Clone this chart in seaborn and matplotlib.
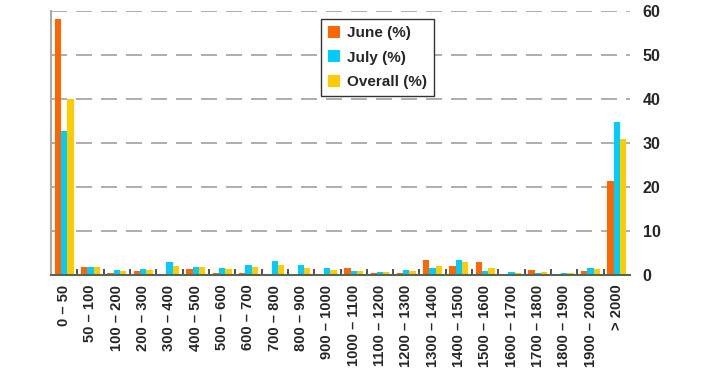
import matplotlib
matplotlib.use("Agg")
import matplotlib.pyplot as plt
import matplotlib.ticker as mticker
import seaborn as sns
import pandas as pd

categories = ["0 – 50", "50 – 100", "100 – 200", "200 – 300", "300 – 400", "400 – 500",
              "500 – 600", "600 – 700", "700 – 800", "800 – 900", "900 – 1000",
              "1000 – 1100", "1100 – 1200", "1200 – 1300", "1300 – 1400", "1400 – 1500",
              "1500 – 1600", "1600 – 1700", "1700 – 1800", "1800 – 1900", "1900 – 2000", "> 2000"]
june = [58.1, 1.8, 0.5, 1.0, 0.2, 1.4, 0.5, 0.5, 0.0, 0.0, 0.3, 1.7, 0.5, 0.4, 3.3, 2.0, 3.0, 0.2, 1.1, 0.2, 0.9, 21.4]
july = [32.7, 1.8, 1.1, 1.3, 2.9, 1.8, 1.7, 2.3, 3.2, 2.3, 1.7, 0.8, 0.7, 1.1, 1.7, 3.4, 0.9, 0.7, 0.5, 0.5, 1.6, 34.7]
overall = [40.0, 1.8, 0.9, 1.2, 2.0, 1.8, 1.4, 1.8, 2.3, 1.7, 1.1, 0.9, 0.7, 1.0, 2.0, 3.0, 1.7, 0.5, 0.7, 0.4, 1.4, 31.0]
series_names = ["June (%)", "July (%)", "Overall (%)"]
yticks = [0, 10, 20, 30, 40, 50, 60]

df = pd.DataFrame({
    "cat": categories * 3,
    "val": june + july + overall,
    "series": [series_names[0]] * len(categories) + [series_names[1]] * len(categories) + [series_names[2]] * len(categories),
})

sns.set_style("white")
plt.rcParams['font.family'] = ['Liberation Sans', 'DejaVu Sans']

fig = plt.figure(figsize=(7.16, 3.72), dpi=100)
ax = fig.add_axes([51/716, 1 - 275/372, 579/716, 264/372])

palette = ["#FF6600", "#00CCFF", "#FFCC00"]
sns.barplot(data=df, x="cat", y="val", hue="series", palette=palette, ax=ax,
            width=0.72, saturation=1, order=categories, hue_order=series_names,
            linewidth=0, edgecolor="none", gap=0)

ax.set_ylim(0, 60)
ax.set_xlim(-0.5, len(categories) - 0.5)
ax.set_yticks(yticks)
ax.yaxis.tick_right()
ax.tick_params(axis='y', length=0, pad=9, labelsize=11.5)
for lab in ax.get_yticklabels():
    lab.set_fontweight('bold')
ax.set_ylabel("")
ax.set_xlabel("")

for y in yticks[1:]:
    ax.axhline(y, color="#A0A0A0", lw=1.2, dashes=(9.6, 5.4), zorder=0)

ax.set_xticks(range(len(categories)))
ax.set_xticklabels(categories, rotation=90, fontweight='bold', fontsize=10.6)
ax.tick_params(axis='x', length=0, pad=7)
ax.xaxis.set_minor_locator(mticker.FixedLocator([i + 0.5 for i in range(len(categories) - 1)]))
ax.tick_params(axis='x', which='minor', length=4, width=1.2, color="#333333", direction='in', bottom=True)

for s in ["top", "right"]:
    ax.spines[s].set_visible(False)
ax.spines["left"].set_color("#AAAAAA")
ax.spines["left"].set_linewidth(1.5)
ax.spines["bottom"].set_color("#556655")
ax.spines["bottom"].set_linewidth(1.5)

leg = ax.legend(loc="upper left", bbox_to_anchor=((321 - 51) / 579, (275 - 19) / 264),
                frameon=True, fancybox=False, edgecolor="#333333", framealpha=1,
                prop={'weight': 'bold', 'size': 11}, handlelength=0.8, handleheight=0.8,
                handletextpad=0.45, borderpad=0.45, labelspacing=0.68, borderaxespad=0)
leg.get_frame().set_linewidth(1.0)

fig.savefig("out.png", dpi=100)
